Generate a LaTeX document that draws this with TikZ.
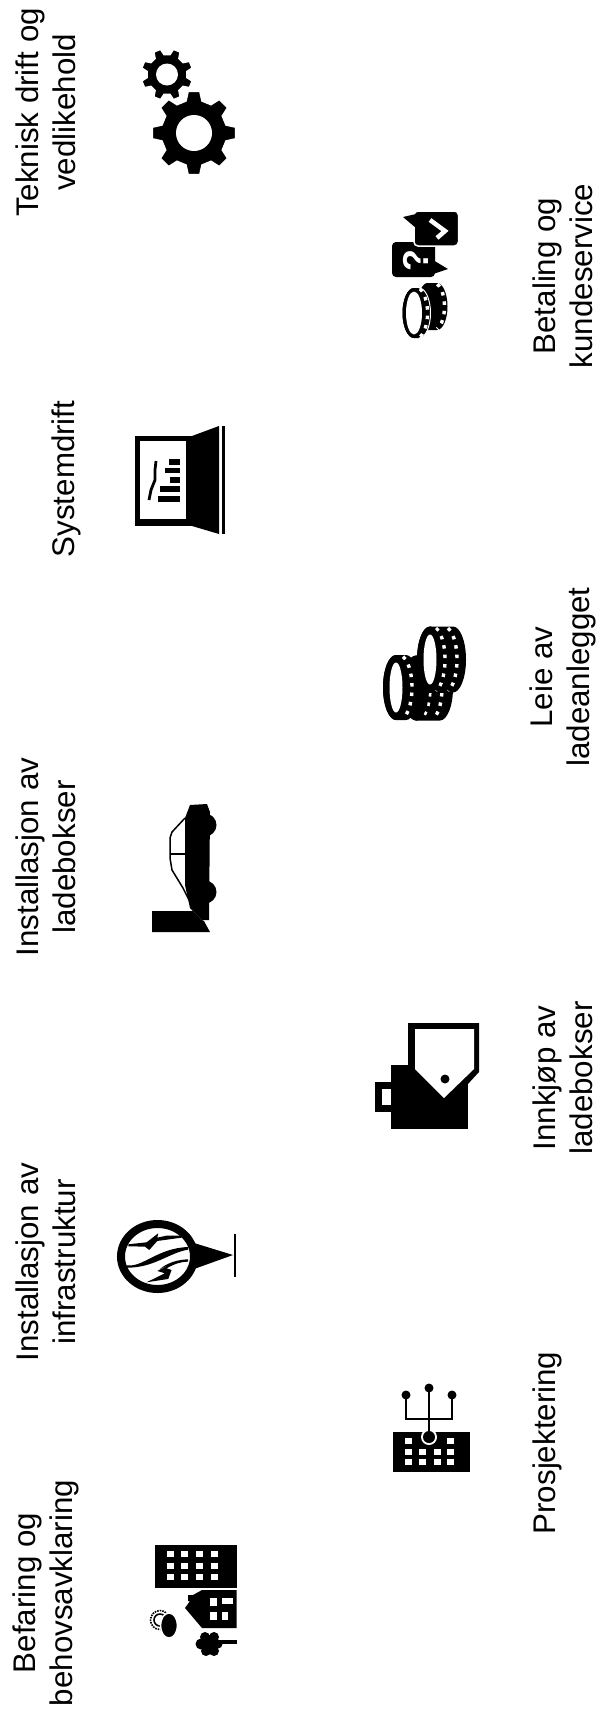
\documentclass[tikz,border=0pt]{standalone}
\usepackage{fontspec}
\setmainfont{Liberation Sans}
\usetikzlibrary{calc}
\tikzset{
  steplabel/.style={rotate=90, align=center, inner sep=0pt, black,
    font=\fontsize{31.3}{37.5}\selectfont},
  iconline/.style={black, line width=2.5pt},
  windowbox/.style={white},
  coindots/.style={white, line width=3.4pt, dash pattern=on 3.5pt off 6pt},
}
% gear: x, y, outer radius, root radius, hole radius, first tooth angle
\newcommand{\gearicon}[6]{
  \fill[black, draw=white, line width=1.5pt] ($(#1,#2)+(#6-14:#4)$)
    \foreach \a in {0,45,...,315} {
      -- ($(#1,#2)+(#6+\a-14:#4)$) -- ($(#1,#2)+(#6+\a-8:#3)$)
      -- ($(#1,#2)+(#6+\a+8:#3)$) -- ($(#1,#2)+(#6+\a+14:#4)$)
    } -- cycle;
  \fill[white] (#1,#2) circle (#5);
}
% coin: x, y, rx, ry, depth, inner rx, inner ry, offsets of the rows of dots
\newcommand{\coinstack}[8]{
  \fill[black] (#1,#2-#4) -- (#1+#5,#2-#4) arc (-90:90:#3 and #4) -- (#1,#2+#4) -- cycle;
  \fill[black] (#1,#2) ellipse ({#3} and {#4});
  \foreach \f in {#8} {
    \draw[coindots] ($(#1+\f,#2)+(-72:#3 and #4)$) arc (-72:72:#3 and #4);
  }
  \fill[black] (#1,#2) ellipse ({#3} and {#4});
  \fill[white] (#1,#2) ellipse ({#6} and {#7});
}
\begin{document}
\begin{tikzpicture}[x=1pt, y=-1pt]
  \useasboundingbox (0,0) rectangle (598,1711);

  % Labels, upper row
  \node[steplabel] (teknisk) at (46,112.5) {Teknisk drift og\\vedlikehold};
  \node[steplabel] (systemdrift) at (66,479) {Systemdrift};
  \node[steplabel] (ladebokser) at (46,857) {Installasjon av\\ladebokser};
  \node[steplabel] (infrastruktur) at (46,1262) {Installasjon av\\infrastruktur};
  \node[steplabel] (befaring) at (46,1593) {Befaring og\\behovsavklaring};

  % Labels, lower row
  \node[steplabel] (betaling) at (563,276) {Betaling og\\kundeservice};
  \node[steplabel] (leie) at (563,677) {Leie av\\ladeanlegget};
  \node[steplabel] (innkjop) at (563,1078) {Innkjøp av\\ladebokser};
  \node[steplabel] (prosjektering) at (547,1443) {Prosjektering};

  % Gears
  \gearicon{194}{133}{42}{33}{18}{0}
  \gearicon{167}{74.5}{26}{20}{11}{22.5}

  % Speech bubbles
  \fill[black, rounded corners=4pt] (392,242) rectangle (435,277);
  \fill[black] (433,260) -- (448,269) -- (433,274) -- cycle;
  \fill[black, draw=white, line width=1.5pt, rounded corners=4pt] (414,211) rectangle (458.5,246);
  \fill[black] (403,217) -- (416,214) -- (416,228) -- cycle;
  \draw[white, line width=4.5pt] (430,220) -- (445,231) -- (437,238);
  \node[white, rotate=90, inner sep=0pt, font=\fontsize{36}{36}\selectfont\bfseries] (question) at (416,261) {?};

  % Coins under the speech bubbles
  \coinstack{428}{306.5}{10.5}{23.5}{9}{0}{0}{6}
  \coinstack{414}{313}{11.5}{25}{5}{8}{21.5}{2}
  \draw[white, line width=1pt] (419,288) arc (-90:90:11.5 and 25);

  % Laptop
  \fill[black] (135,436) rectangle (192,526);
  \fill[white] (140,441) rectangle (186,519);
  \fill[black] (192,436) -- (219,426) -- (219,534) -- (192,526) -- cycle;
  \fill[black] (222,426) rectangle (225,534);
  \draw[black, line width=2.8pt] (156,461) -- (155,470) -- (155,480) -- (151,490) -- (149,500);
  \foreach \ya/\yb/\xa in {459/465/169, 468/473/165, 477/483/170, 486/492/160, 496/502/158}
    \fill[black] (\xa,\ya) rectangle (180,\yb);

  % Large coins
  \coinstack{416}{688}{13}{32.5}{24}{0}{0}{1,13}
  \coinstack{396}{687.5}{13}{32.5}{10}{6.5}{25}{3}
  \coinstack{430}{659.5}{13}{33}{23}{6.5}{25}{2,14}

  % Car and charger
  \fill[black] (185,818) -- (190,805) -- (207,804) -- (210,812) -- (209,920)
    -- (202,920) -- (190,908) -- (185,885) -- cycle;
  \fill[black] (205,825) circle (11.5);
  \fill[black] (205,892) circle (11.5);
  \draw[black, line width=1.5pt] (185,818) -- (172,832) -- (170,838) -- (170,858) -- (172,870) -- (183,888) -- (190,902);
  \draw[black, line width=1.5pt] (170,854) -- (185,854);
  \fill[black] (152,911) -- (193,911) -- (202,920) -- (204,921) -- (210,932) -- (152,932) -- cycle;

  % Bag with tag
  \fill[black] (391,1065) rectangle (467.5,1129);
  \fill[black] (375,1082) rectangle (391,1112);
  \fill[white] (382,1089) rectangle (391,1105);
  \fill[black] (408,1023) -- (479,1023) -- (479,1072) -- (444,1110) -- (408,1072) -- cycle;
  \fill[white] (415,1029) -- (474,1029) -- (474,1069) -- (444,1098) -- (415,1069) -- cycle;
  \fill[black] (445,1079) circle (4.5);

  % Globe with lightning
  \draw[black, line width=8pt] (157.5,1256.5) ellipse (36.5 and 32.5);
  \fill[black] (194,1243) -- (233,1255) -- (194,1269) -- cycle;
  \draw[black, line width=1.5pt] (235,1234) -- (235,1277);
  \begin{scope}[shift={(100,1205)}, x=0.333pt, y=-0.333pt]
    \fill[black] (175,85) -- (140,112) -- (85,118) -- (85,124) -- (135,125) -- (148,135)
      -- (172,108) -- (245,98) -- (245,92) -- (200,92) -- (172,98) -- cycle;
    \fill[black] (80,181) .. controls (130,188) and (170,130) .. (265,126) -- (265,134)
      .. controls (210,142) and (160,190) .. (80,188) -- cycle;
    \fill[black] (225,172) -- (172,198) -- (195,205) -- (140,232) -- (205,222) -- (215,195) -- (200,190)
      .. controls (225,176) and (245,170) .. (265,170) -- (265,163)
      .. controls (235,164) and (205,172) .. (180,192) -- cycle;
  \end{scope}

  % Building with network
  \fill[black] (393,1432) rectangle (469.5,1472);
  \fill[white] (429,1437) circle (8);
  \fill[white] (421,1428) rectangle (437,1432);
  \fill[black] (429,1437) circle (6);
  \draw[iconline] (429,1437) -- (429,1388);
  \draw[iconline] (406,1395) -- (406,1419) -- (452,1419) -- (452,1395);
  \fill[black] (429,1388) circle (4.5);
  \fill[black] (406,1395) circle (4.5);
  \fill[black] (452,1395) circle (4.5);
  \foreach \wx in {408,422.5,437,450} {
    \foreach \wy in {1452,1462} {
      \fill[windowbox] (\wx-3.5,\wy-3) rectangle (\wx+3.5,\wy+3);
    }
  }
  \fill[windowbox] (404.5,1438) rectangle (411.5,1444);
  \fill[windowbox] (446.5,1438) rectangle (453.5,1444);

  % Office block
  \fill[black] (155,1545) rectangle (236.5,1588);
  \foreach \wx in {170,184,199,214} {
    \foreach \wy in {1554,1566,1577} {
      \fill[windowbox] (\wx-3.5,\wy-3) rectangle (\wx+3.5,\wy+3);
    }
  }

  % House
  \fill[black] (202,1590) -- (236.5,1590) -- (236.5,1628) -- (202,1628) -- (185,1608)
    -- (190,1601) -- (188,1601) -- (188,1595) -- (193,1595) -- cycle;
  \fill[windowbox] (210,1598) rectangle (217,1606);
  \fill[windowbox] (222,1598) rectangle (233,1604);
  \fill[windowbox] (210,1612) rectangle (217,1620);
  \fill[windowbox] (222,1612) rectangle (228,1620);

  % Tree
  \foreach \tx/\ty/\tr in {209/1644/9, 201/1644/5.5, 205/1637/5, 214/1637/5, 218/1644/4.5, 214/1651/5, 206/1651/5}
    \fill[black] (\tx,\ty) circle (\tr);
  \draw[black, line width=4pt] (215,1642) -- (236.5,1642);

  % Sun and cloud
  \draw[black, line width=1.6pt, densely dotted] (160,1620) circle (9.5);
  \draw[black, line width=1.6pt] (160,1620) circle (6);
  \fill[black, draw=white, line width=1.5pt] (169,1625.5) ellipse (8.5 and 12.5);
\end{tikzpicture}
\end{document}
